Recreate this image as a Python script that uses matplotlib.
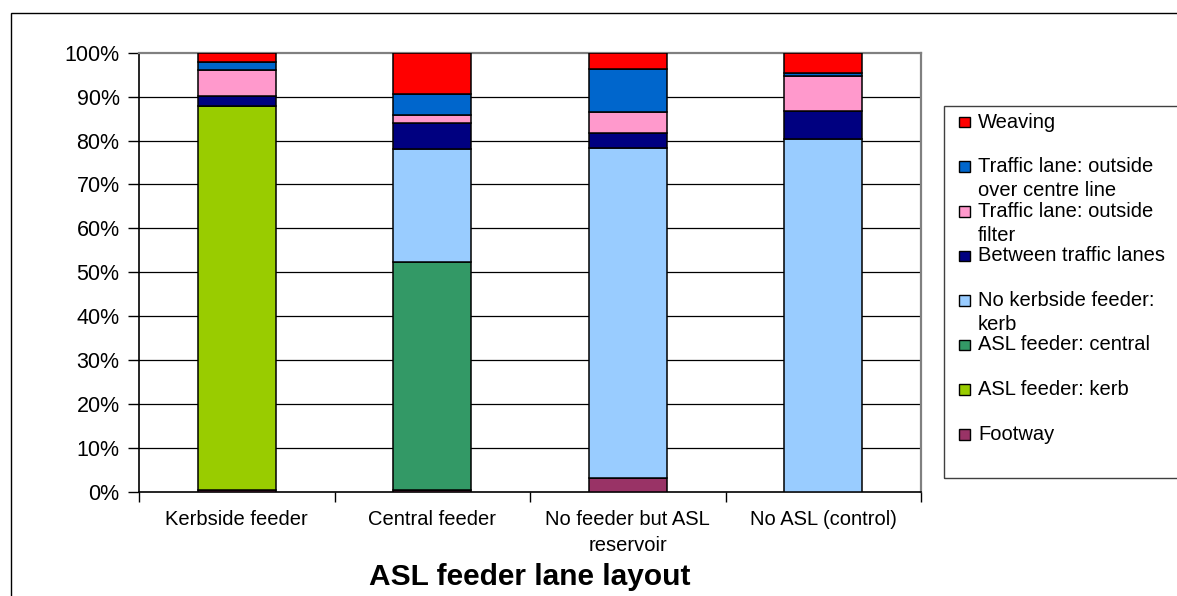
import matplotlib
matplotlib.use("Agg")
import matplotlib.pyplot as plt
from matplotlib.patches import Rectangle
from matplotlib.ticker import FuncFormatter, FixedLocator
import numpy as np

plt.rcParams['font.family'] = ['Liberation Sans', 'DejaVu Sans']

categories = ["Kerbside feeder", "Central feeder", "No feeder but ASL\nreservoir", "No ASL (control)"]
footway = [0.5, 0.5, 3.2, 0.0]
asl_kerb = [87.3, 0.0, 0.0, 0.0]
asl_central = [0.0, 51.8, 0.0, 0.0]
no_kerbside = [0.0, 25.7, 75.0, 80.4]
between_lanes = [2.4, 6.1, 3.6, 6.4]
outside_filter = [5.9, 1.8, 4.6, 7.8]
outside_centre = [1.7, 4.6, 9.9, 0.8]
weaving = [2.2, 9.5, 3.7, 4.6]

series_labels = ["Footway", "ASL feeder: kerb", "ASL feeder: central",
                 "No kerbside feeder:\nkerb", "Between traffic lanes",
                 "Traffic lane: outside\nfilter", "Traffic lane: outside\nover centre line",
                 "Weaving"]
series_values = [footway, asl_kerb, asl_central, no_kerbside, between_lanes,
                 outside_filter, outside_centre, weaving]
series_colors = ["#993366", "#99CC00", "#339966", "#99CCFF", "#000080",
                 "#FF99CC", "#0066CC", "#FF0000"]

W, H = 1177, 596
fig = plt.figure(figsize=(W / 100, H / 100), dpi=100)

def fx(px):
    return px / W

def fy(py):
    return 1 - py / H

# outer chart border
fig.patches.append(Rectangle((fx(11), fy(800)), fx(1400), (800 - 13) / H,
                             transform=fig.transFigure, fill=False,
                             edgecolor="black", linewidth=1.0))

ax = fig.add_axes([fx(139), fy(492), (921 - 139) / W, (492 - 52.7) / H])

x = np.arange(len(categories))
bottom = np.zeros(len(categories))
for vals, col in zip(series_values, series_colors):
    ax.bar(x, vals, width=0.4, bottom=bottom, color=col, edgecolor="black",
           linewidth=1.1, zorder=3)
    bottom += np.array(vals)

ax.set_xlim(-0.5, len(categories) - 0.5)
ax.set_ylim(0, 100)
ax.set_yticks(np.arange(0, 101, 10))
ax.yaxis.set_major_formatter(FuncFormatter(lambda v, p: f"{int(v)}%"))
for yv in range(10, 100, 10):
    ax.axhline(yv, color="black", linewidth=0.9, zorder=1)

ax.set_xticks(x)
ax.set_xticklabels(categories, fontsize=14.5)
for lab in ax.get_xticklabels():
    lab.set_linespacing(1.45)
ax.xaxis.set_minor_locator(FixedLocator(np.arange(-0.5, len(categories), 1.0)))
ax.tick_params(axis="x", which="major", length=0, pad=13)
ax.tick_params(axis="x", which="minor", length=7, width=1, color="black")
ax.tick_params(axis="y", length=8, width=1, pad=6, labelsize=15.5)

for s in ["left", "bottom"]:
    ax.spines[s].set_color("black")
    ax.spines[s].set_linewidth(1.2)
for s in ["top", "right"]:
    ax.spines[s].set_color("#808080")
    ax.spines[s].set_linewidth(1.6)

# legend box
fig.patches.append(Rectangle((fx(944), fy(478)), fx(400), (478 - 106) / H,
                             transform=fig.transFigure, fill=False,
                             edgecolor="#404040", linewidth=1.0))
leg_order = list(range(len(series_labels)))[::-1]
for i, idx in enumerate(leg_order):
    yc = 122 + i * 44.6
    fig.patches.append(Rectangle((fx(959), fy(yc + 5.3)), fx(10.6), 10.6 / H,
                                 transform=fig.transFigure,
                                 facecolor=series_colors[idx], edgecolor="black",
                                 linewidth=1.0))
    for j, line in enumerate(series_labels[idx].split("\n")):
        fig.text(fx(978), fy(yc + j * 24), line, fontsize=14.5,
                 ha="left", va="center")

fig.text(fx(530), fy(577), "ASL feeder lane layout", fontsize=21.5,
         fontweight="bold", ha="center", va="center")

fig.savefig("out.png", dpi=100)
